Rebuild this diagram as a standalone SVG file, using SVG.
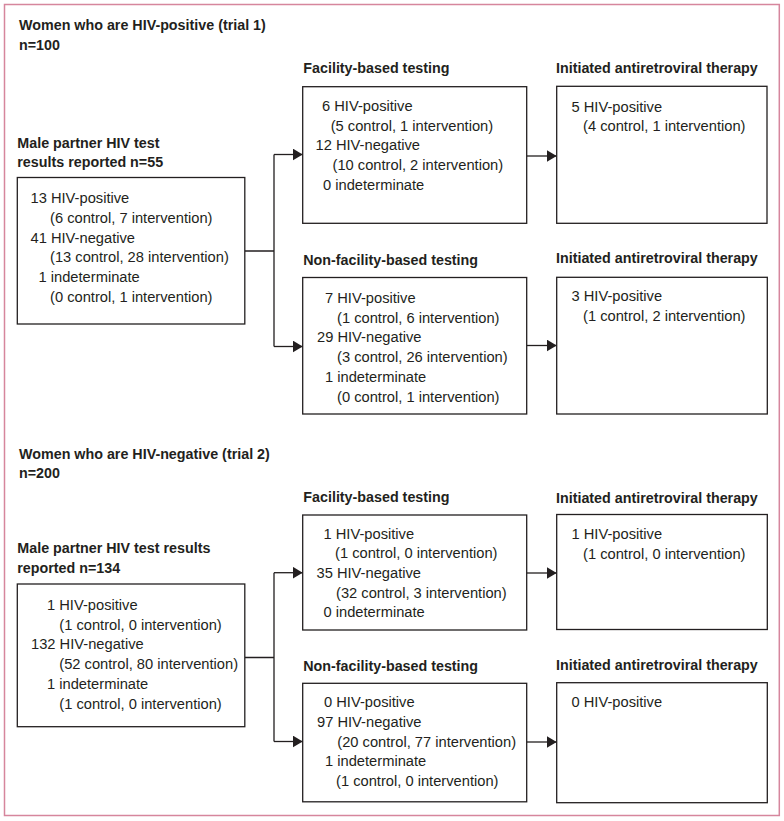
<svg xmlns="http://www.w3.org/2000/svg" width="784" height="821" viewBox="0 0 784 821">
<style>
.h{font-family:"Liberation Sans",Arial,sans-serif;font-weight:bold;font-size:14.3px;fill:#231f20}
.t{font-family:"Liberation Sans",Arial,sans-serif;font-size:14.7px;fill:#231f20}
.box{fill:#fff;stroke:#231f20;stroke-width:1.3}
.ln{fill:none;stroke:#231f20;stroke-width:1.3}
.arr{fill:none;stroke:#231f20;stroke-width:1.3;marker-end:url(#ah)}
</style>
<defs>
<marker id="ah" markerUnits="userSpaceOnUse" markerWidth="11" markerHeight="12" refX="10" refY="6" orient="auto">
<path d="M0,0 L10,6 L0,12 Z" fill="#231f20"/>
</marker>
</defs>
<rect width="784" height="821" fill="#fff"/>
<rect x="4.5" y="4.5" width="774.8" height="811" fill="none" stroke="#d6869d" stroke-width="1.5"/>

<g id="titles">
<text class="h" x="19" y="29.8">Women who are HIV-positive (trial 1)</text>
<text class="h" x="19" y="50">n=100</text>
<text class="h" x="19" y="458.5">Women who are HIV-negative (trial 2)</text>
<text class="h" x="19" y="478">n=200</text>
</g>

<g id="connectors">
<path class="ln" d="M245,251 H274 M274,154.5 V346.5"/>
<path class="arr" d="M274,154.5 H302.7"/>
<path class="arr" d="M274,346.5 H302.7"/>
<path class="arr" d="M526.7,156 H556.7"/>
<path class="arr" d="M526.7,345.5 H556.7"/>
<path class="ln" d="M245,657.5 H274 M274,572.7 V741.5"/>
<path class="arr" d="M274,572.7 H302.7"/>
<path class="arr" d="M274,741.5 H302.7"/>
<path class="arr" d="M526.7,573 H556.7"/>
<path class="arr" d="M526.7,742 H556.7"/>
</g>

<g id="male1">
<text class="h" x="17.3" y="147.8">Male partner HIV test</text>
<text class="h" x="17.3" y="166.8">results reported n=55</text>
<rect class="box" x="17.3" y="177.5" width="227.5" height="146.5"/>
<text class="t" x="30.5" y="203.3">13 HIV-positive</text>
<text class="t" x="50" y="222.8">(6 control, 7 intervention)</text>
<text class="t" x="30.5" y="242.5">41 HIV-negative</text>
<text class="t" x="50" y="262.2">(13 control, 28 intervention)</text>
<text class="t" x="38.5" y="282">1 indeterminate</text>
<text class="t" x="50" y="301.7">(0 control, 1 intervention)</text>
</g>

<g id="fac1">
<text class="h" x="303.3" y="73">Facility-based testing</text>
<rect class="box" x="302.7" y="86.7" width="224" height="136.6"/>
<text class="t" x="322" y="110.7">6 HIV-positive</text>
<text class="t" x="330.7" y="130.5">(5 control, 1 intervention)</text>
<text class="t" x="315.5" y="150.3">12 HIV-negative</text>
<text class="t" x="332.5" y="170">(10 control, 2 intervention)</text>
<text class="t" x="323" y="189.8">0 indeterminate</text>
</g>

<g id="art1">
<text class="h" x="556" y="73.3">Initiated antiretroviral therapy</text>
<rect class="box" x="556.7" y="86.3" width="210.3" height="137"/>
<text class="t" x="571.5" y="111.5">5 HIV-positive</text>
<text class="t" x="583" y="131.3">(4 control, 1 intervention)</text>
</g>

<g id="nonfac1">
<text class="h" x="303.3" y="264.5">Non-facility-based testing</text>
<rect class="box" x="302.7" y="277.5" width="224" height="136.5"/>
<text class="t" x="325" y="302.8">7 HIV-positive</text>
<text class="t" x="337" y="322.5">(1 control, 6 intervention)</text>
<text class="t" x="317" y="342.3">29 HIV-negative</text>
<text class="t" x="337" y="362">(3 control, 26 intervention)</text>
<text class="t" x="325" y="381.8">1 indeterminate</text>
<text class="t" x="337" y="401.6">(0 control, 1 intervention)</text>
</g>

<g id="art2">
<text class="h" x="556" y="263.3">Initiated antiretroviral therapy</text>
<rect class="box" x="556.7" y="277.3" width="210.6" height="136.7"/>
<text class="t" x="571.5" y="301">3 HIV-positive</text>
<text class="t" x="583" y="320.8">(1 control, 2 intervention)</text>
</g>

<g id="male2">
<text class="h" x="17.3" y="553">Male partner HIV test results</text>
<text class="h" x="17.3" y="573">reported n=134</text>
<rect class="box" x="17.3" y="584" width="227.5" height="142.7"/>
<text class="t" x="47" y="609.8">1 HIV-positive</text>
<text class="t" x="59.3" y="629.5">(1 control, 0 intervention)</text>
<text class="t" x="31" y="649.3">132 HIV-negative</text>
<text class="t" x="59.3" y="669">(52 control, 80 intervention)</text>
<text class="t" x="47" y="689">1 indeterminate</text>
<text class="t" x="59.3" y="708.5">(1 control, 0 intervention)</text>
</g>

<g id="fac2">
<text class="h" x="303.3" y="501.7">Facility-based testing</text>
<rect class="box" x="302.7" y="515" width="224" height="115"/>
<text class="t" x="323.5" y="538.5">1 HIV-positive</text>
<text class="t" x="335" y="558.3">(1 control, 0 intervention)</text>
<text class="t" x="316.5" y="578">35 HIV-negative</text>
<text class="t" x="336" y="597.7">(32 control, 3 intervention)</text>
<text class="t" x="323.5" y="617.3">0 indeterminate</text>
</g>

<g id="art3">
<text class="h" x="556" y="502.7">Initiated antiretroviral therapy</text>
<rect class="box" x="556.7" y="514.5" width="210.6" height="115"/>
<text class="t" x="571.5" y="539.3">1 HIV-positive</text>
<text class="t" x="583" y="559">(1 control, 0 intervention)</text>
</g>

<g id="nonfac2">
<text class="h" x="303.3" y="670.7">Non-facility-based testing</text>
<rect class="box" x="302.7" y="683.3" width="224" height="118.5"/>
<text class="t" x="324" y="706.7">0 HIV-positive</text>
<text class="t" x="317" y="726.8">97 HIV-negative</text>
<text class="t" x="337.3" y="746.6">(20 control, 77 intervention)</text>
<text class="t" x="325" y="766.3">1 indeterminate</text>
<text class="t" x="336" y="786">(1 control, 0 intervention)</text>
</g>

<g id="art4">
<text class="h" x="556" y="670">Initiated antiretroviral therapy</text>
<rect class="box" x="556.7" y="682.7" width="210.6" height="120"/>
<text class="t" x="571.5" y="706.7">0 HIV-positive</text>
</g>
</svg>
